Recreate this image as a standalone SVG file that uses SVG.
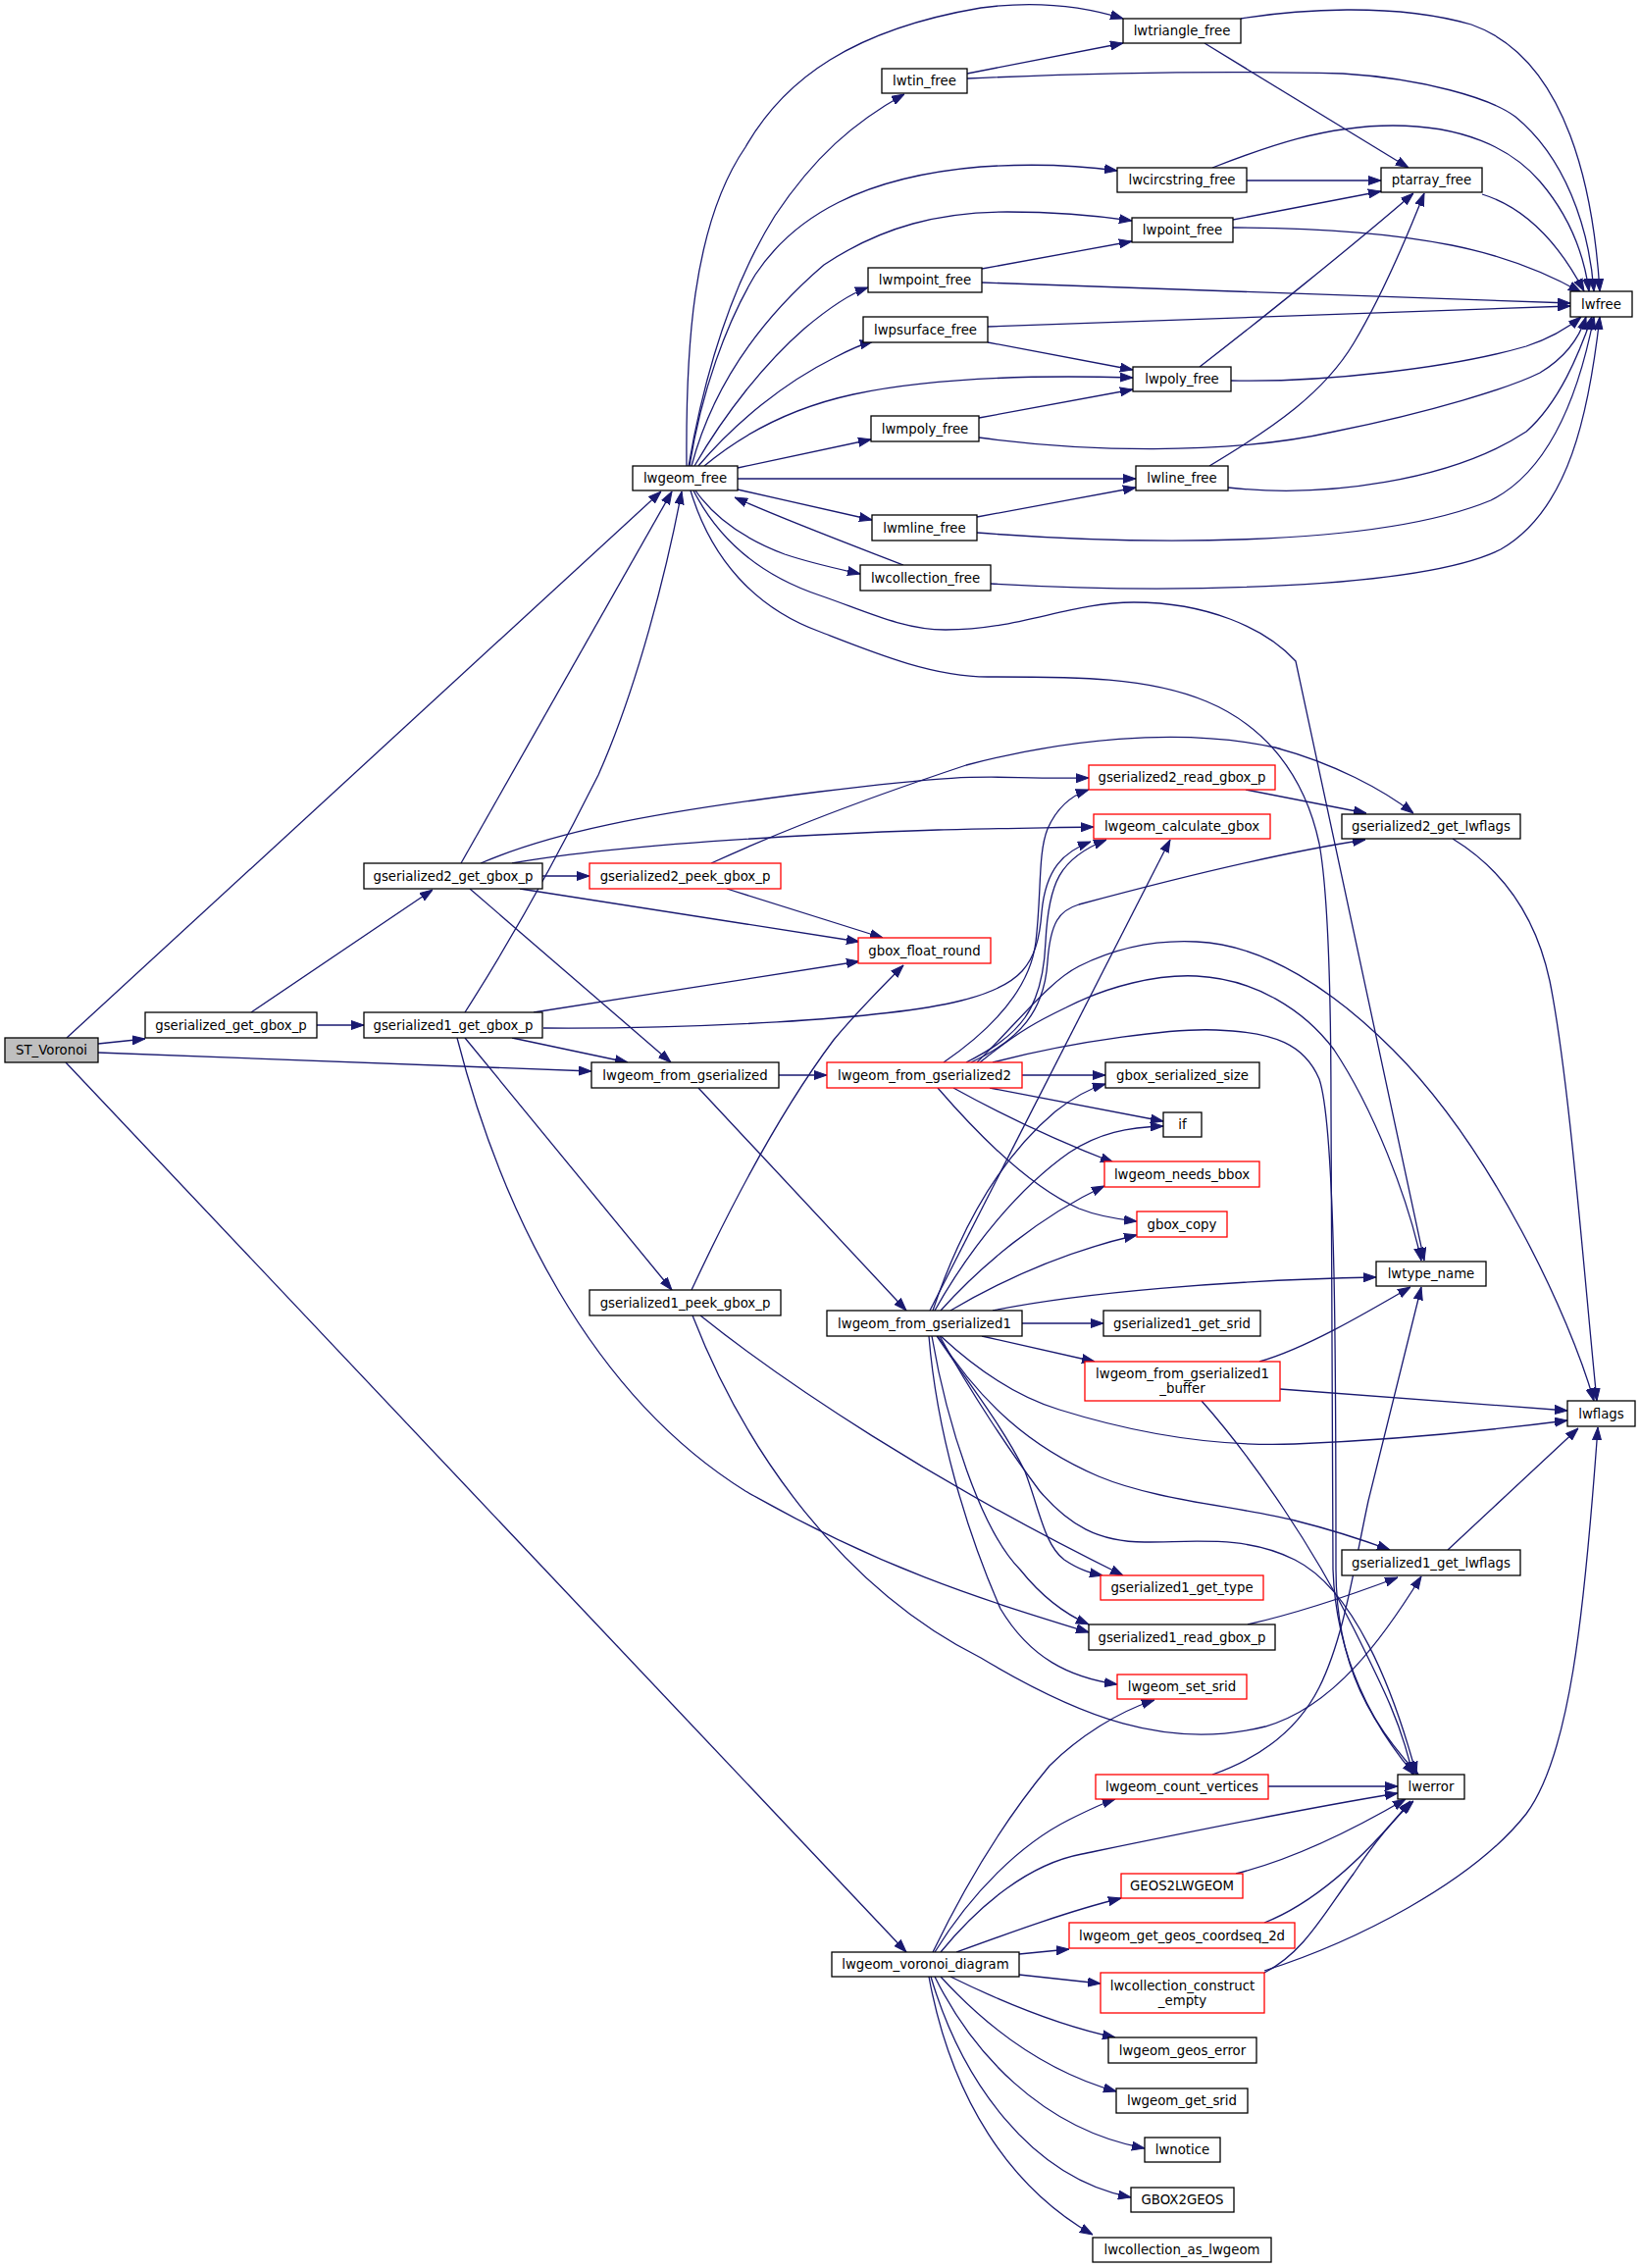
<svg xmlns="http://www.w3.org/2000/svg" width="1672" height="2312" viewBox="0 0 1672 2312">
<defs>
<style>
.e{fill:none;stroke:#191970;stroke-width:1.3;marker-end:url(#ah)}
.n rect{fill:#fff;stroke:#000;stroke-width:1.3}
.r rect{fill:#fff;stroke:#ff0000;stroke-width:1.3}
.g rect{fill:#bfbfbf;stroke:#000;stroke-width:1.3}
text{font-family:"DejaVu Sans","Liberation Sans",sans-serif;font-size:13.3px;text-anchor:middle;fill:#000}
</style>
<marker id="ah" viewBox="0 0 13 10" refX="13" refY="5" markerWidth="13" markerHeight="10" markerUnits="userSpaceOnUse" orient="auto"><path d="M0,0.5 L13,5 L0,9.5 z" fill="#191970" stroke="#191970" stroke-width="1"/></marker>
</defs>
<rect width="1672" height="2312" fill="#fff"/>
<g id="connectors">
<path class="e" d="M68,1058 L674,501"/>
<path class="e" d="M100,1064 L148,1059"/>
<path class="e" d="M100,1073 L603,1092"/>
<path class="e" d="M67,1083 L924,1990"/>
<path class="e" d="M256,1032 L441,907"/>
<path class="e" d="M323,1045 L371,1045"/>
<path class="e" d="M470,880 L685,501"/>
<path class="e" d="M490,880 C560,850 650,830 836,807 S1000,795 1110,793"/>
<path class="e" d="M522,880 C600,866 720,857 836,851 S1000,845 1115,843"/>
<path class="e" d="M553,893 L601,893"/>
<path class="e" d="M530,906 L876,960"/>
<path class="e" d="M479,906 L684,1083"/>
<path class="e" d="M725,880 C780,855 850,825 985,780 C1080,755 1200,740 1300,762 C1360,778 1410,805 1441,829"/>
<path class="e" d="M741,906 L900,956"/>
<path class="e" d="M474,1032 C520,960 570,870 610,790 C650,700 680,580 695,501"/>
<path class="e" d="M544,1032 L876,980"/>
<path class="e" d="M554,1048 C700,1049 900,1040 980,1020 C1040,1005 1058,985 1062,930 C1066,885 1085,868 1112,858"/>
<path class="e" d="M522,1058 L640,1083"/>
<path class="e" d="M474,1058 L685,1315"/>
<path class="e" d="M466,1058 C510,1230 600,1420 760,1520 C900,1600 1000,1630 1110,1664"/>
<path class="e" d="M705,1315 C740,1240 790,1140 850,1060 C875,1030 900,1005 921,984"/>
<path class="e" d="M714,1341 C800,1410 950,1510 1145,1606"/>
<path class="e" d="M706,1341 C760,1480 860,1620 1000,1690 C1100,1750 1190,1785 1290,1760 C1360,1740 1410,1670 1449,1607"/>
<path class="e" d="M794,1096 L843,1096"/>
<path class="e" d="M712,1109 L924,1336"/>
<path class="e" d="M962,1083 C1010,1050 1050,1010 1056,960 C1062,910 1058,870 1068,845 C1078,822 1095,810 1110,805"/>
<path class="e" d="M985,1083 C1040,1055 1063,1030 1066,960 C1069,900 1080,875 1128,856"/>
<path class="e" d="M990,1083 C1040,1060 1065,1030 1068,980 C1071,940 1080,928 1100,922 C1200,895 1300,870 1392,856"/>
<path class="e" d="M996,1083 C1040,1040 1070,1000 1100,985 C1140,965 1180,958 1220,960 C1290,963 1360,1010 1420,1070 C1520,1170 1600,1340 1625,1428"/>
<path class="e" d="M999,1083 C1040,1050 1060,1040 1087,1027 C1130,1005 1180,993 1220,995 C1280,998 1330,1030 1360,1070 C1400,1130 1435,1220 1449,1285"/>
<path class="e" d="M1012,1083 C1100,1060 1200,1048 1240,1050 C1300,1052 1330,1065 1345,1100 C1362,1150 1362,1400 1362,1600 C1362,1700 1400,1760 1446,1809"/>
<path class="e" d="M1042,1096 L1127,1096"/>
<path class="e" d="M1009,1109 L1186,1143"/>
<path class="e" d="M972,1109 C1010,1130 1070,1160 1135,1185"/>
<path class="e" d="M956,1109 C1000,1160 1050,1210 1100,1232 C1120,1240 1140,1243 1159,1245"/>
<path class="e" d="M948,1336 L1193,856"/>
<path class="e" d="M951,1336 C980,1250 1020,1180 1076,1133 C1095,1118 1110,1110 1127,1105"/>
<path class="e" d="M953,1336 C990,1270 1040,1210 1090,1175 C1120,1155 1150,1149 1186,1148"/>
<path class="e" d="M959,1336 C1000,1290 1060,1240 1126,1209"/>
<path class="e" d="M969,1336 C1030,1300 1090,1275 1159,1259"/>
<path class="e" d="M1012,1336 C1100,1318 1250,1305 1403,1302"/>
<path class="e" d="M1042,1349 L1125,1349"/>
<path class="e" d="M1001,1362 L1116,1388"/>
<path class="e" d="M959,1362 C1000,1400 1040,1425 1080,1437 C1160,1462 1240,1475 1320,1472 C1420,1468 1520,1458 1598,1448"/>
<path class="e" d="M956,1362 C1000,1430 1050,1475 1120,1505 C1180,1530 1260,1535 1320,1550 C1360,1560 1390,1570 1417,1580"/>
<path class="e" d="M955,1362 C980,1400 1020,1450 1045,1500 C1060,1540 1065,1575 1085,1590 C1100,1600 1110,1603 1124,1606"/>
<path class="e" d="M950,1362 C965,1450 1000,1560 1040,1600 C1060,1625 1085,1645 1110,1656"/>
<path class="e" d="M947,1362 C955,1460 985,1560 1020,1640 C1050,1690 1090,1710 1139,1717"/>
<path class="e" d="M958,1362 C990,1420 1030,1480 1060,1520 C1090,1555 1120,1572 1167,1572 C1220,1572 1270,1565 1320,1590 C1380,1620 1420,1720 1444,1809"/>
<path class="e" d="M1284,1388 C1330,1375 1390,1340 1438,1312"/>
<path class="e" d="M1305,1416 L1598,1438"/>
<path class="e" d="M1225,1428 C1280,1490 1340,1580 1380,1660 C1410,1720 1430,1760 1440,1809"/>
<path class="e" d="M707,500 C730,545 770,585 836,607 C880,622 920,642 964,642 C1040,642 1090,614 1156,614 C1230,614 1290,640 1321,674 L1452,1285"/>
<path class="e" d="M704,500 C725,570 770,620 836,644 C890,665 950,690 1007,690 C1100,690 1170,690 1230,715 C1290,740 1330,790 1345,860 C1356,920 1357,1050 1357,1133 L1359,1600 C1362,1690 1400,1760 1442,1809"/>
<path class="e" d="M700,475 C699,360 705,230 760,150 C800,80 870,30 1000,8 C1060,0 1110,8 1145,19"/>
<path class="e" d="M702,475 C715,400 740,300 790,220 C830,160 870,125 922,96"/>
<path class="e" d="M703,475 C715,400 740,330 770,280 C810,220 880,180 1000,170 C1060,166 1110,170 1139,174"/>
<path class="e" d="M705,475 C725,400 770,330 840,270 C900,230 960,216 1027,216 C1080,216 1120,220 1154,225"/>
<path class="e" d="M708,475 C740,420 780,370 820,335 C845,314 865,300 885,293"/>
<path class="e" d="M712,475 C750,430 800,390 850,365 C865,357 878,351 890,348"/>
<path class="e" d="M718,475 C760,440 810,415 870,402 C950,385 1050,382 1155,385"/>
<path class="e" d="M752,477 L888,448"/>
<path class="e" d="M752,488 L1158,488"/>
<path class="e" d="M752,499 L889,530"/>
<path class="e" d="M709,500 C730,530 760,550 800,565 C830,575 855,580 877,585"/>
<path class="e" d="M921,576 C880,560 800,530 749,507"/>
<path class="e" d="M986,75 L1145,44"/>
<path class="e" d="M986,80 C1100,75 1250,72 1369,75 C1450,80 1520,100 1545,119 C1595,160 1620,230 1625,297"/>
<path class="e" d="M1265,19 C1320,10 1420,2 1500,25 C1600,60 1625,200 1631,297"/>
<path class="e" d="M1228,44 L1436,171"/>
<path class="e" d="M1271,184 L1408,184"/>
<path class="e" d="M1236,171 C1290,150 1350,128 1420,128 C1490,128 1540,150 1570,185 C1600,220 1615,260 1620,297"/>
<path class="e" d="M1257,224 L1408,195"/>
<path class="e" d="M1257,232 C1340,232 1420,238 1480,250 C1540,262 1580,280 1612,298"/>
<path class="e" d="M1511,198 C1550,210 1585,240 1615,297"/>
<path class="e" d="M1001,274 L1154,246"/>
<path class="e" d="M1001,288 L1601,309"/>
<path class="e" d="M1007,333 L1601,312"/>
<path class="e" d="M1007,349 L1155,377"/>
<path class="e" d="M1223,374 C1280,330 1380,250 1441,197"/>
<path class="e" d="M1255,388 C1350,390 1480,375 1556,353 C1580,345 1600,333 1612,323"/>
<path class="e" d="M998,426 L1155,397"/>
<path class="e" d="M998,446 C1100,460 1250,465 1360,440 C1460,420 1540,395 1570,380 C1595,365 1610,345 1617,323"/>
<path class="e" d="M1233,475 C1300,435 1350,400 1380,350 C1410,300 1435,240 1452,197"/>
<path class="e" d="M1252,497 C1350,508 1480,490 1556,440 C1590,410 1610,360 1623,323"/>
<path class="e" d="M996,527 L1158,497"/>
<path class="e" d="M996,543 C1150,555 1400,560 1520,510 C1580,480 1610,400 1625,323"/>
<path class="e" d="M1010,595 C1200,606 1450,600 1530,560 C1600,520 1620,420 1631,323"/>
<path class="e" d="M1270,805 L1393,829"/>
<path class="e" d="M1481,855 C1530,885 1565,930 1580,1000 C1600,1100 1615,1300 1628,1428"/>
<path class="e" d="M1476,1580 L1609,1456"/>
<path class="e" d="M1272,1656 C1320,1645 1380,1625 1425,1608"/>
<path class="e" d="M1293,1821 L1425,1821"/>
<path class="e" d="M1236,1809 C1290,1790 1325,1760 1345,1720 C1370,1670 1380,1600 1395,1530 L1449,1312"/>
<path class="e" d="M1260,1910 C1320,1895 1380,1865 1433,1834"/>
<path class="e" d="M1289,1960 C1340,1940 1390,1895 1438,1836"/>
<path class="e" d="M1289,2011 C1330,1990 1350,1950 1380,1910 C1400,1880 1420,1855 1441,1836"/>
<path class="e" d="M1289,2009 C1380,1980 1500,1920 1556,1849 C1600,1790 1615,1650 1629,1455"/>
<path class="e" d="M951,1990 C980,1930 1020,1860 1070,1800 C1100,1770 1140,1745 1177,1733"/>
<path class="e" d="M953,1990 C990,1930 1040,1880 1090,1855 C1110,1845 1125,1838 1137,1834"/>
<path class="e" d="M959,1990 C1000,1940 1050,1900 1103,1890 C1200,1870 1320,1845 1425,1828"/>
<path class="e" d="M975,1990 C1030,1970 1090,1948 1143,1935"/>
<path class="e" d="M1039,1992 L1090,1987"/>
<path class="e" d="M1039,2013 L1122,2022"/>
<path class="e" d="M969,2015 C1020,2040 1080,2065 1137,2077"/>
<path class="e" d="M959,2015 C1000,2060 1060,2110 1138,2132"/>
<path class="e" d="M953,2015 C990,2090 1060,2170 1167,2190"/>
<path class="e" d="M949,2015 C980,2120 1050,2220 1153,2240"/>
<path class="e" d="M947,2015 C970,2140 1030,2230 1114,2278"/>
</g>
<g id="ST_Voronoi" class="g"><rect x="5" y="1058" width="95" height="25"/><text x="52.5" y="1075">ST_Voronoi</text></g>
<g id="gserialized_get_gbox_p" class="n"><rect x="148" y="1032" width="175" height="26"/><text x="235.5" y="1050">gserialized_get_gbox_p</text></g>
<g id="gserialized2_get_gbox_p" class="n"><rect x="371" y="880" width="182" height="26"/><text x="462" y="898">gserialized2_get_gbox_p</text></g>
<g id="gserialized1_get_gbox_p" class="n"><rect x="371" y="1032" width="182" height="26"/><text x="462" y="1050">gserialized1_get_gbox_p</text></g>
<g id="lwgeom_free" class="n"><rect x="645" y="475" width="107" height="25"/><text x="698.5" y="492">lwgeom_free</text></g>
<g id="lwgeom_from_gserialized" class="n"><rect x="603" y="1083" width="191" height="26"/><text x="698.5" y="1101">lwgeom_from_gserialized</text></g>
<g id="gserialized2_peek_gbox_p" class="r"><rect x="601" y="880" width="195" height="26"/><text x="698.5" y="898">gserialized2_peek_gbox_p</text></g>
<g id="gserialized1_peek_gbox_p" class="n"><rect x="601" y="1315" width="195" height="26"/><text x="698.5" y="1333">gserialized1_peek_gbox_p</text></g>
<g id="lwgeom_voronoi_diagram" class="n"><rect x="848" y="1990" width="191" height="25"/><text x="943.5" y="2007">lwgeom_voronoi_diagram</text></g>
<g id="lwtin_free" class="n"><rect x="899" y="70" width="87" height="25"/><text x="942.5" y="87">lwtin_free</text></g>
<g id="lwmpoint_free" class="n"><rect x="885" y="273" width="116" height="25"/><text x="943" y="290">lwmpoint_free</text></g>
<g id="lwpsurface_free" class="n"><rect x="880" y="323" width="127" height="26"/><text x="943.5" y="341">lwpsurface_free</text></g>
<g id="lwmpoly_free" class="n"><rect x="888" y="424" width="110" height="26"/><text x="943" y="442">lwmpoly_free</text></g>
<g id="lwmline_free" class="n"><rect x="889" y="525" width="107" height="26"/><text x="942.5" y="543">lwmline_free</text></g>
<g id="lwcollection_free" class="n"><rect x="877" y="576" width="133" height="26"/><text x="943.5" y="594">lwcollection_free</text></g>
<g id="lwgeom_from_gserialized2" class="r"><rect x="843" y="1083" width="199" height="26"/><text x="942.5" y="1101">lwgeom_from_gserialized2</text></g>
<g id="gbox_float_round" class="r"><rect x="875" y="956" width="135" height="26"/><text x="942.5" y="974">gbox_float_round</text></g>
<g id="lwgeom_from_gserialized1" class="n"><rect x="843" y="1336" width="199" height="26"/><text x="942.5" y="1354">lwgeom_from_gserialized1</text></g>
<g id="lwtriangle_free" class="n"><rect x="1145" y="19" width="120" height="25"/><text x="1205" y="36">lwtriangle_free</text></g>
<g id="lwcircstring_free" class="n"><rect x="1139" y="171" width="132" height="25"/><text x="1205" y="188">lwcircstring_free</text></g>
<g id="lwpoint_free" class="n"><rect x="1154" y="222" width="103" height="25"/><text x="1205.5" y="239">lwpoint_free</text></g>
<g id="lwpoly_free" class="n"><rect x="1155" y="374" width="100" height="25"/><text x="1205" y="391">lwpoly_free</text></g>
<g id="lwline_free" class="n"><rect x="1158" y="475" width="94" height="25"/><text x="1205" y="492">lwline_free</text></g>
<g id="gserialized2_read_gbox_p" class="r"><rect x="1110" y="780" width="190" height="25"/><text x="1205" y="797">gserialized2_read_gbox_p</text></g>
<g id="lwgeom_calculate_gbox" class="r"><rect x="1115" y="830" width="180" height="25"/><text x="1205" y="847">lwgeom_calculate_gbox</text></g>
<g id="gbox_serialized_size" class="n"><rect x="1127" y="1083" width="157" height="26"/><text x="1205.5" y="1101">gbox_serialized_size</text></g>
<g id="if" class="n"><rect x="1186" y="1134" width="39" height="25"/><text x="1205.5" y="1151">if</text></g>
<g id="lwgeom_needs_bbox" class="r"><rect x="1126" y="1184" width="158" height="26"/><text x="1205" y="1202">lwgeom_needs_bbox</text></g>
<g id="gbox_copy" class="r"><rect x="1159" y="1235" width="92" height="26"/><text x="1205" y="1253">gbox_copy</text></g>
<g id="gserialized1_get_srid" class="n"><rect x="1125" y="1336" width="160" height="26"/><text x="1205" y="1354">gserialized1_get_srid</text></g>
<g id="lwgeom_from_gserialized1_buffer" class="r"><rect x="1106" y="1388" width="199" height="40"/><text x="1205.5" y="1405">lwgeom_from_gserialized1</text><text x="1205.5" y="1420">_buffer</text></g>
<g id="gserialized1_get_type" class="r"><rect x="1122" y="1606" width="166" height="25"/><text x="1205" y="1623">gserialized1_get_type</text></g>
<g id="gserialized1_read_gbox_p" class="n"><rect x="1110" y="1656" width="190" height="26"/><text x="1205" y="1674">gserialized1_read_gbox_p</text></g>
<g id="lwgeom_set_srid" class="r"><rect x="1139" y="1707" width="132" height="25"/><text x="1205" y="1724">lwgeom_set_srid</text></g>
<g id="lwgeom_count_vertices" class="r"><rect x="1117" y="1809" width="176" height="25"/><text x="1205" y="1826">lwgeom_count_vertices</text></g>
<g id="GEOS2LWGEOM" class="r"><rect x="1143" y="1910" width="124" height="25"/><text x="1205" y="1927">GEOS2LWGEOM</text></g>
<g id="lwgeom_get_geos_coordseq_2d" class="r"><rect x="1090" y="1960" width="230" height="26"/><text x="1205" y="1978">lwgeom_get_geos_coordseq_2d</text></g>
<g id="lwcollection_construct_empty" class="r"><rect x="1122" y="2011" width="167" height="41"/><text x="1205.5" y="2029">lwcollection_construct</text><text x="1205.5" y="2044">_empty</text></g>
<g id="lwgeom_geos_error" class="n"><rect x="1130" y="2077" width="151" height="26"/><text x="1205.5" y="2095">lwgeom_geos_error</text></g>
<g id="lwgeom_get_srid" class="n"><rect x="1138" y="2129" width="134" height="25"/><text x="1205" y="2146">lwgeom_get_srid</text></g>
<g id="lwnotice" class="n"><rect x="1167" y="2179" width="77" height="25"/><text x="1205.5" y="2196">lwnotice</text></g>
<g id="GBOX2GEOS" class="n"><rect x="1153" y="2230" width="105" height="25"/><text x="1205.5" y="2247">GBOX2GEOS</text></g>
<g id="lwcollection_as_lwgeom" class="n"><rect x="1114" y="2281" width="182" height="25"/><text x="1205" y="2298">lwcollection_as_lwgeom</text></g>
<g id="ptarray_free" class="n"><rect x="1408" y="171" width="103" height="25"/><text x="1459.5" y="188">ptarray_free</text></g>
<g id="gserialized2_get_lwflags" class="n"><rect x="1368" y="830" width="182" height="25"/><text x="1459" y="847">gserialized2_get_lwflags</text></g>
<g id="lwtype_name" class="n"><rect x="1403" y="1286" width="112" height="25"/><text x="1459" y="1303">lwtype_name</text></g>
<g id="gserialized1_get_lwflags" class="n"><rect x="1368" y="1580" width="182" height="26"/><text x="1459" y="1598">gserialized1_get_lwflags</text></g>
<g id="lwerror" class="n"><rect x="1425" y="1809" width="68" height="25"/><text x="1459" y="1826">lwerror</text></g>
<g id="lwfree" class="n"><rect x="1601" y="297" width="63" height="26"/><text x="1632.5" y="315">lwfree</text></g>
<g id="lwflags" class="n"><rect x="1598" y="1428" width="69" height="26"/><text x="1632.5" y="1446">lwflags</text></g>
</svg>
